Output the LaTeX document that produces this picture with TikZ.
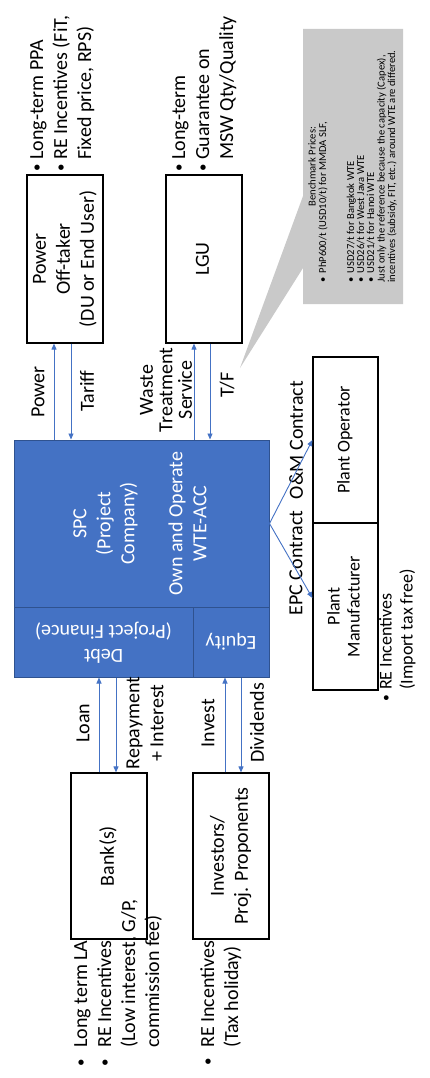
\documentclass[tikz,border=0pt]{standalone}
\usepackage{fontspec}
\setmainfont{Carlito}
\usetikzlibrary{arrows.meta,shapes.callouts}

\definecolor{spcblue}{RGB}{68,114,196}
\definecolor{spcline}{RGB}{47,82,143}
\definecolor{notegray}{RGB}{201,201,201}

% box text, turned to read upwards
\newcommand{\upright}[1]{\rotatebox{90}{\begin{tabular}{@{}c@{}}#1\end{tabular}}}
\newcommand{\bul}[1]{\makebox[#1][l]{\raisebox{0.08em}{\scalebox{0.75}{\textbullet}}}}

\begin{document}
\begin{tikzpicture}[x=1pt,y=-1pt,
  font=\fontsize{20}{24}\selectfont,
  party/.style={draw=black,line width=1.2pt,inner sep=0pt},
  spcpart/.style={draw=spcline,fill=spcblue,line width=1pt,inner sep=0pt,text=white},
  flow/.style={draw=spcblue,line width=0.9pt,-{Triangle[length=6pt,width=5pt]}},
  tag/.style={rotate=90,inner sep=0pt,align=center},
  notes/.style={rotate=90,inner sep=0pt,align=left,anchor=north west}]
\useasboundingbox (0,0) rectangle (430,1078);

% project company
\node[spcpart,minimum width=255pt,minimum height=167pt] (spc) at (141.5,523.5)
  {\upright{SPC\\(Project\\Company)\\ \\Own and Operate\\WTE-ACC}};
\node[spcpart,minimum width=179pt,minimum height=70pt] (debt) at (103.5,642)
  {\rotatebox{180}{\begin{tabular}{@{}c@{}}Debt\\(Project Finance)\end{tabular}}};
\node[spcpart,minimum width=76pt,minimum height=70pt] (equity) at (231,642)
  {\rotatebox{180}{Equity}};

% counterparties
\node[party,minimum width=76pt,minimum height=168pt] (offtaker) at (65,259)
  {\upright{Power\\Off-taker\\(DU or End User)}};
\node[party,minimum width=76pt,minimum height=168pt] (lgu) at (204,259) {\upright{LGU}};
\node[party,minimum width=76pt,minimum height=166pt] (bank) at (109,856) {\upright{Bank(s)}};
\node[party,minimum width=76pt,minimum height=166pt] (investors) at (231,856)
  {\upright{Investors/\\Proj. Proponents}};
\node[party,minimum width=65pt,minimum height=166pt,font=\fontsize{18}{20}\selectfont] (operator) at (345.5,440)
  {\upright{Plant Operator}};
\node[party,minimum width=65pt,minimum height=167pt,font=\fontsize{18}{20}\selectfont] (maker) at (345.5,606.5)
  {\upright{Plant\\Manufacturer}};

% benchmark note
\node[rectangle callout,fill=notegray,inner sep=0pt,minimum width=100pt,minimum height=275pt,
  callout absolute pointer={(240,368)},callout pointer width=72pt] (note) at (353,166.5)
  {\rotatebox{90}{\fontsize{10.6}{9}\selectfont\begin{tabular}{@{}l@{}}
    \multicolumn{1}{@{}c@{}}{Benchmark Prices:}\\
    \textbullet\hspace{4pt}PhP600/t (USD10/t) for MMDA SLF,\\
    \\
    \\
    \textbullet\hspace{4pt}USD27/t for Bangkok WTE\\
    \textbullet\hspace{4pt}USD26/t for West Java WTE\\
    \textbullet\hspace{4pt}USD21/t for Hanoi WTE\\
    *Just only the reference because the capacity (Capex),\\
    incentives (subsidy, FIT, etc.) around WTE are differed.
  \end{tabular}}};

% bullet notes
\node[notes] (ppanotes) at (30,171.5)
  {\bul{11.5pt}Long-term PPA\\\bul{11.5pt}RE Incentives (FiT,\\\hspace*{11.5pt}Fixed price, RPS)};
\node[notes] (lgunotes) at (172,171.5)
  {\bul{11.5pt}Long-term\\\bul{11.5pt}Guarantee on\\\hspace*{11.5pt}MSW Qty/Quality};
\node[notes] (banknotes) at (74,1066.5)
  {\bul{18.5pt}Long term LA\\\bul{18.5pt}RE Incentives\\\hspace*{18.5pt}(Low interest, G/P,\\\hspace*{18.5pt}commission fee)};
\node[notes] (invnotes) at (200,1065.5)
  {\bul{17.5pt}RE Incentives\\\hspace*{17.5pt}(Tax holiday)};
\node[notes,font=\fontsize{18}{21}\selectfont] (plantnotes) at (379,701.5)
  {\bul{11.5pt}RE Incentives\\\hspace*{11.5pt}(Import tax free)};

% flow labels
\node[tag] (power) at (38,392) {Power};
\node[tag] (tariff) at (87,391) {Tariff};
\node[tag,font=\fontsize{20}{19.5}\selectfont] (waste) at (166,390) {Waste\\Treatment\\Service};
\node[tag] (tf) at (227,385) {T/F};
\node[tag] (loan) at (83,723) {Loan};
\node[tag] (repay) at (145,723) {Repayment\\+ Interest};
\node[tag] (invest) at (208,723) {Invest};
\node[tag] (dividends) at (257,723) {Dividends};
\node[tag] (om) at (296,440) {O\&M Contract};
\node[tag] (epc) at (296,563) {EPC Contract};

% flows
\draw[flow] (spc.north -| 54,0) -- (offtaker.south -| 54,0);
\draw[flow] (offtaker.south -| 71,0) -- (spc.north -| 71,0);
\draw[flow] (spc.north -| 194,0) -- (lgu.south -| 194,0);
\draw[flow] (lgu.south -| 210,0) -- (spc.north -| 210,0);
\draw[flow] (bank.north -| 99,0) -- (debt.south -| 99,0);
\draw[flow] (debt.south -| 116,0) -- (bank.north -| 116,0);
\draw[flow] (investors.north -| 225,0) -- (equity.south -| 225,0);
\draw[flow] (equity.south -| 241,0) -- (investors.north -| 241,0);
\draw[flow] (spc.east) -- (operator.west);
\draw[flow] (spc.east) -- (maker.west |- 0,598);
\end{tikzpicture}
\end{document}
